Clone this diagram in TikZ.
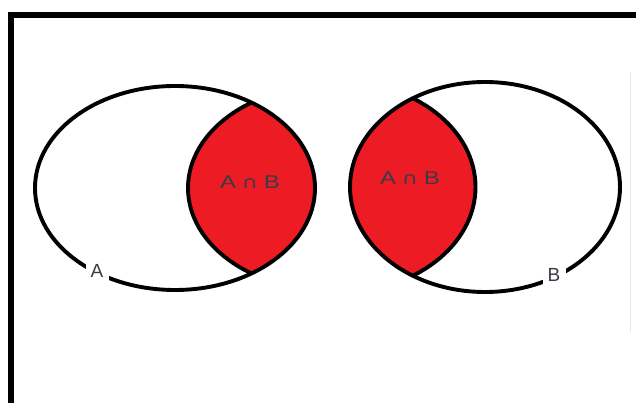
\documentclass[tikz,border=0pt]{standalone}
\usepackage{fontspec}
\setmainfont{Liberation Sans}
\newfontfamily\symfont{DejaVu Sans}
\usepackage{graphicx}
\definecolor{lensred}{HTML}{ED1C24}
\definecolor{txtgrey}{HTML}{3A3A48}
\definecolor{faint}{HTML}{E6E6E6}
\newcommand{\capsym}{{\symfont\fontsize{17}{20}\selectfont ∩}}
\tikzset{
  setline/.style={line width=3.9pt, black},
  lenslabel/.style={text=txtgrey, font=\fontsize{18.5}{20}\selectfont, inner sep=0pt},
  setlabel/.style={text=txtgrey, font=\fontsize{19}{20}\selectfont, fill=white, inner sep=2pt, minimum width=23pt}
}
\begin{document}
\begin{tikzpicture}[x=1pt,y=-1pt]
\useasboundingbox (0,0) rectangle (636,403);
% frame
\draw[line width=6pt, miter limit=10] (11,412) -- (11,15) -- (645,15);
\draw[faint, line width=1pt] (630,72) -- (630,332);
% left figure: A with lens
\begin{scope}
  \clip (175,188) ellipse [x radius=140, y radius=102];
  \fill[lensred] (328,188) ellipse [x radius=140, y radius=102];
  \draw[setline] (328,188) ellipse [x radius=140, y radius=102];
\end{scope}
\draw[setline] (175,188) ellipse [x radius=140, y radius=102];
% right figure: B with lens
\begin{scope}
  \clip (485,187) ellipse [x radius=135, y radius=105];
  \fill[lensred] (340.5,187) ellipse [x radius=135, y radius=105];
  \draw[setline] (340.5,187) ellipse [x radius=135, y radius=105];
\end{scope}
\draw[setline] (485,187) ellipse [x radius=135, y radius=105];
% labels
\node[lenslabel] (capL) at (250,182) {\scalebox{1.3}[1]{A\hspace{4.5pt}\capsym\hspace{4.5pt}B}};
\node[lenslabel] (capR) at (410,178) {\scalebox{1.3}[1]{A\hspace{4.5pt}\capsym\hspace{4.5pt}B}};
\node[setlabel] (labA) at (97,271) {A};
\node[setlabel] (labB) at (554,275) {B};
\end{tikzpicture}
\end{document}
